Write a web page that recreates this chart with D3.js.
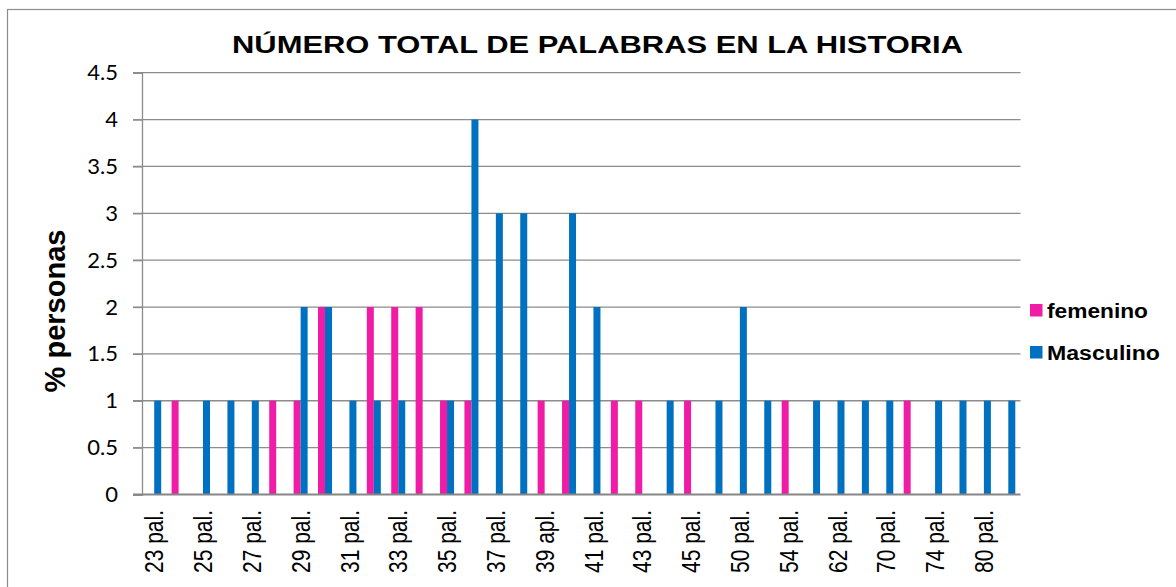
<!DOCTYPE html>
<html>
<head>
<meta charset="utf-8">
<script src="https://cdn.jsdelivr.net/npm/d3@7"></script>
<style>
  body { margin: 0; background: #fff; }
  svg { display: block; }
</style>
</head>
<body>
<svg width="1176" height="587"></svg>
<script>
// categories (only every other one gets a label in the original)
var categories = [
  "23 pal.", "24 pal.", "25 pal.", "26 pal.", "27 pal.", "28 pal.",
  "29 pal.", "30 pal.", "31 pal.", "32 pal.", "33 pal.", "34 pal.",
  "35 pal.", "36 pal.", "37 pal.", "38 pal.", "39 apl.", "40 pal.",
  "41 pal.", "42 pal.", "43 pal.", "44 pal.", "45 pal.", "46 pal.",
  "50 pal.", "51 pal.", "54 pal.", "55 pal.", "62 pal.", "65 pal.",
  "70 pal.", "72 pal.", "74 pal.", "77 pal.", "80 pal.", "90 pal."
];
var femenino = [0, 1, 0, 0, 0, 1, 1, 2, 0, 2, 2, 2, 1, 1, 0, 0, 1, 1,
                0, 1, 1, 0, 1, 0, 0, 0, 1, 0, 0, 0, 0, 1, 0, 0, 0, 0];
var masculino = [1, 0, 1, 1, 1, 0, 2, 2, 1, 1, 1, 0, 1, 4, 3, 3, 0, 3,
                 2, 0, 0, 1, 0, 1, 2, 1, 0, 1, 1, 1, 1, 0, 1, 1, 1, 1];
var seriesNames = ["femenino", "Masculino"];
var seriesColors = ["#F01CA5", "#0070C0"];
var yTicks = [0, 0.5, 1, 1.5, 2, 2.5, 3, 3.5, 4, 4.5];

var svg = d3.select("svg");

var plotLeft = 142, plotRight = 1020.5, plotTop = 72.7, plotBottom = 494.5;

// chart frame
svg.append("rect")
  .attr("x", 7.5).attr("y", 9.5)
  .attr("width", 1300).attr("height", 800)
  .attr("fill", "none").attr("stroke", "#8c8c8c").attr("stroke-width", 1.2);

var x0 = d3.scaleBand().domain(categories).range([plotLeft, plotRight]).padding(0);
var x1 = d3.scaleBand().domain(seriesNames)
  .range([x0.bandwidth() * 0.213, x0.bandwidth() * 0.787]).padding(0);
var y = d3.scaleLinear().domain([0, 4.5]).range([plotBottom, plotTop]);

// gridlines
svg.append("g")
  .selectAll("line")
  .data(yTicks.slice(1))
  .enter().append("line")
  .attr("x1", plotLeft - 9).attr("x2", plotRight)
  .attr("y1", function(d) { return y(d); })
  .attr("y2", function(d) { return y(d); })
  .attr("stroke", "#8c8c8c").attr("stroke-width", 1.3);

// y axis
var yAxis = svg.append("g")
  .attr("transform", "translate(" + plotLeft + ",0)")
  .call(d3.axisLeft(y).tickValues(yTicks).tickSize(9).tickPadding(15)
    .tickFormat(function(d) { return String(d); }));
yAxis.select(".domain").attr("stroke", "#8c8c8c").attr("stroke-width", 1.3);
yAxis.selectAll(".tick line").attr("stroke", "#8c8c8c").attr("stroke-width", 1.3);
yAxis.selectAll(".tick text")
  .attr("font-family", "Lato, 'Open Sans', sans-serif")
  .attr("font-size", 22).attr("fill", "#000");

// bars
var rows = categories.map(function(c, i) {
  return { cat: c, vals: [femenino[i], masculino[i]] };
});
svg.append("g")
  .selectAll("g")
  .data(rows)
  .enter().append("g")
  .attr("transform", function(d) { return "translate(" + x0(d.cat) + ",0)"; })
  .selectAll("rect")
  .data(function(d) {
    return d.vals.map(function(v, k) { return { s: seriesNames[k], v: v, k: k }; });
  })
  .enter().append("rect")
  .attr("x", function(d) { return x1(d.s); })
  .attr("width", x1.bandwidth())
  .attr("y", function(d) { return y(d.v); })
  .attr("height", function(d) { return plotBottom - y(d.v); })
  .attr("fill", function(d) { return seriesColors[d.k]; });

// x axis baseline
svg.append("line")
  .attr("x1", plotLeft - 9).attr("x2", plotRight)
  .attr("y1", plotBottom).attr("y2", plotBottom)
  .attr("stroke", "#868686").attr("stroke-width", 2);

// x labels, every other category
svg.append("g")
  .selectAll("text")
  .data(categories.filter(function(d, i) { return i % 2 === 0; }))
  .enter().append("text")
  .attr("transform", function(d) {
    return "translate(" + (x0(d) + x0.bandwidth() / 2) + ",510) scale(1.2,1) rotate(-90)";
  })
  .attr("dy", "0.36em")
  .attr("text-anchor", "end")
  .attr("font-family", "Arial, 'Liberation Sans', sans-serif")
  .attr("font-size", 21)
  .text(function(d) { return d; });

// title
svg.append("text")
  .attr("x", 232).attr("y", 53)
  .attr("font-family", "Arial, 'Liberation Sans', sans-serif")
  .attr("font-weight", "bold").attr("font-size", 23.5)
  .attr("textLength", 731).attr("lengthAdjust", "spacingAndGlyphs")
  .text("NÚMERO TOTAL DE PALABRAS EN LA HISTORIA");

// y title
svg.append("text")
  .attr("transform", "translate(65,311) rotate(-90)")
  .attr("text-anchor", "middle")
  .attr("font-family", "Arial, 'Liberation Sans', sans-serif")
  .attr("font-weight", "bold").attr("font-size", 29)
  .text("% personas");

// legend
var legendWidths = [101, 113];
var legend = svg.append("g")
  .selectAll("g")
  .data(seriesNames)
  .enter().append("g")
  .attr("transform", function(d, i) { return "translate(1030," + (304 + i * 42) + ")"; });
legend.append("rect")
  .attr("width", 12.5).attr("height", 12.5)
  .attr("fill", function(d, i) { return seriesColors[i]; });
legend.append("text")
  .attr("x", 17).attr("y", 13.5)
  .attr("font-family", "Arial, 'Liberation Sans', sans-serif")
  .attr("font-weight", "bold").attr("font-size", 19.5)
  .attr("textLength", function(d, i) { return legendWidths[i]; })
  .attr("lengthAdjust", "spacingAndGlyphs")
  .text(function(d) { return d; });
</script>
</body>
</html>
